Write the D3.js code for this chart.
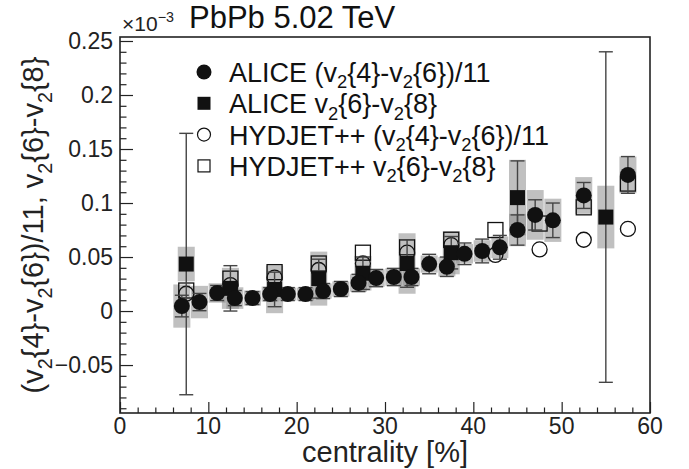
<!DOCTYPE html>
<html>
<head>
<meta charset="utf-8">
<script src="https://cdn.jsdelivr.net/npm/d3@7"></script>
<style>
  body { margin: 0; background: #fff; }
  svg { display: block; font-family: "Liberation Sans", Arial, sans-serif; }
</style>
</head>
<body>
<div id="chart"></div>
<script>
// ALICE (v2{4}-v2{6})/11
var aliceCentX = [7, 9, 11, 13, 15, 17, 19, 21, 23, 25, 27, 29, 31, 33, 35, 37, 39, 41, 43, 45, 47, 49, 52.5, 57.5];
var aliceCentY = [0.0046, 0.0083, 0.0167, 0.012, 0.012, 0.0157, 0.0157, 0.0157, 0.0185, 0.0204, 0.026, 0.0305, 0.0315, 0.0315,
  0.0435, 0.041, 0.053, 0.0556, 0.059, 0.075, 0.089, 0.084, 0.107, 0.126];
var aliceCentStat = [0.010, 0.008, 0.007, 0.007, 0.006, 0.006, 0.006, 0.006, 0.007, 0.007, 0.008, 0.008, 0.008, 0.008,
  0.009, 0.009, 0.010, 0.011, 0.011, 0.014, 0.014, 0.016, 0.012, 0.017];
var aliceCentSys = [0.020, 0.015, 0.009, 0.010, 0.007, 0.007, 0.006, 0.006, 0.007, 0.007, 0.008, 0.008, 0.008, 0.008,
  0.008, 0.009, 0.009, 0.010, 0.010, 0.015, 0.023, 0.020, 0.017, 0.017];

// ALICE v2{6}-v2{8}
var aliceSqX = [7.5, 12.5, 17.5, 22.5, 27.5, 32.5, 37.5, 45, 55];
var aliceSqY = [0.0435, 0.021, 0.02, 0.030, 0.035, 0.044, 0.054, 0.105, 0.087];
var aliceSqStat = [0.121, 0.021, 0.016, 0.018, 0.015, 0.022, 0.015, 0.034, 0.153];
var aliceSqSys = [0.016, 0.019, 0.022, 0.025, 0.016, 0.028, 0.020, 0.035, 0.029];

// HYDJET++
var hydX = [7.5, 12.5, 17.5, 22.5, 27.5, 32.5, 37.5, 42.5, 47.5, 52.5, 57.5];
var hydCentY = [0.016, 0.024, 0.031, 0.038, 0.044, 0.054, 0.061, 0.052, 0.057, 0.066, 0.076];
var hydSqY = [0.019, 0.030, 0.036, 0.044, 0.054, 0.059, 0.066, 0.075, 0.081, 0.096, 0.118];

var xTicks = [0, 10, 20, 30, 40, 50, 60];
var yTicks = [-0.05, 0, 0.05, 0.1, 0.15, 0.2, 0.25];

var W = 689, H = 469;
var frame = { left: 120, right: 650, top: 37, bottom: 413 };

var svg = d3.select("#chart").append("svg")
  .attr("width", W)
  .attr("height", H);

var x = d3.scaleLinear().domain([0, 60]).range([frame.left, frame.right]);
var y = d3.scaleLinear().domain([-0.0944, 0.2537]).range([frame.bottom, frame.top]);

// writes text with sub/superscripts, parts = [[str, "sub"|"sup"|null], ...]
function richText(sel, parts, size, subShift) {
  var back = 0;
  parts.forEach(function (p) {
    var t = sel.append("tspan").text(p[0]);
    var shift = 0;
    if (p[1] == "sub") shift = size * (subShift || 0.3);
    if (p[1] == "sup") shift = -size * 0.42;
    if (p[1]) t.attr("font-size", size * 0.68);
    if (shift - back != 0) t.attr("dy", shift - back);
    back = shift;
  });
}

// frame
svg.append("rect")
  .attr("x", frame.left).attr("y", frame.top)
  .attr("width", frame.right - frame.left).attr("height", frame.bottom - frame.top)
  .attr("fill", "none").attr("stroke", "#222").attr("stroke-width", 1.6);

// x axis ticks (inside)
var gx = svg.append("g").attr("transform", "translate(0," + frame.bottom + ")")
  .call(d3.axisTop(x).tickValues(d3.range(0, 61, 2)).tickSize(0).tickFormat(""));
gx.select(".domain").remove();
gx.selectAll(".tick text").remove();
gx.selectAll(".tick line")
  .attr("y2", function (d) { return d % 10 == 0 ? -11 : -5.5; })
  .attr("stroke", "#222").attr("stroke-width", 1.2);

svg.append("g").selectAll("text")
  .data(xTicks).enter().append("text")
  .attr("x", function (d) { return x(d); })
  .attr("y", frame.bottom + 21)
  .attr("text-anchor", "middle")
  .attr("font-size", 23)
  .attr("fill", "#222")
  .text(function (d) { return d; });

// y axis ticks (inside)
var gy = svg.append("g").attr("transform", "translate(" + frame.left + ",0)")
  .call(d3.axisRight(y).tickValues(d3.range(-0.09, 0.2501, 0.01)).tickSize(0).tickFormat(""));
gy.select(".domain").remove();
gy.selectAll(".tick text").remove();
gy.selectAll(".tick line")
  .attr("x2", function (d) { return Math.abs(Math.round(d * 100) % 5) == 0 ? 13 : 6.5; })
  .attr("stroke", "#222").attr("stroke-width", 1.2);

svg.append("g").selectAll("text")
  .data(yTicks).enter().append("text")
  .attr("x", frame.left - 7)
  .attr("y", function (d) { return y(d) + 8; })
  .attr("text-anchor", "end")
  .attr("font-size", 23)
  .attr("fill", "#222")
  .text(function (d) { return d < 0 ? "\u2212" + String(-d) : String(d); });

// axis titles
svg.append("text")
  .attr("x", (frame.left + frame.right) / 2)
  .attr("y", 462)
  .attr("text-anchor", "middle")
  .attr("font-size", 29)
  .attr("fill", "#222")
  .text("centrality [%]");

var yt = svg.append("text")
  .attr("transform", "translate(43," + ((frame.top + frame.bottom) / 2) + ") rotate(-90)")
  .attr("text-anchor", "middle")
  .attr("font-size", 29)
  .attr("fill", "#222");
richText(yt, [["(v", null], ["2", "sub"], ["{4}-v", null], ["2", "sub"], ["{6})/11, v", null], ["2", "sub"],
  ["{6}-v", null], ["2", "sub"], ["{8}", null]], 29);

// exponent and title
var ex = svg.append("text").attr("x", 122).attr("y", 31).attr("font-size", 21).attr("fill", "#222");
richText(ex, [["\u00d710", null], ["\u22123", "sup"]], 21);

svg.append("text")
  .attr("x", 189).attr("y", 28)
  .attr("font-size", 31)
  .attr("fill", "#111")
  .text("PbPb 5.02 TeV");

var boxW = 17;

// systematic boxes
var boxes = svg.append("g").attr("fill", "#8c8c8c").attr("fill-opacity", 0.55);
boxes.selectAll("rect.c").data(aliceCentX).enter().append("rect")
  .attr("x", function (d) { return x(d) - boxW / 2; })
  .attr("width", boxW)
  .attr("y", function (d, i) { return y(aliceCentY[i] + aliceCentSys[i]); })
  .attr("height", function (d, i) { return y(aliceCentY[i] - aliceCentSys[i]) - y(aliceCentY[i] + aliceCentSys[i]); });
boxes.selectAll("rect.s").data(aliceSqX).enter().append("rect")
  .attr("x", function (d) { return x(d) - boxW / 2; })
  .attr("width", boxW)
  .attr("y", function (d, i) { return y(aliceSqY[i] + aliceSqSys[i]); })
  .attr("height", function (d, i) { return y(aliceSqY[i] - aliceSqSys[i]) - y(aliceSqY[i] + aliceSqSys[i]); });

// HYDJET++ open markers
var hyd = svg.append("g").attr("fill", "none").attr("stroke", "#111").attr("stroke-width", 1.3);
hyd.selectAll("circle").data(hydX).enter().append("circle")
  .attr("cx", function (d) { return x(d); })
  .attr("cy", function (d, i) { return y(hydCentY[i]); })
  .attr("r", 7.5);
hyd.selectAll("rect").data(hydX).enter().append("rect")
  .attr("x", function (d) { return x(d) - 7.5; })
  .attr("y", function (d, i) { return y(hydSqY[i]) - 7.5; })
  .attr("width", 15).attr("height", 15);

// stat error bars
function errorBars(g, xs, ys, errs, cap) {
  g.selectAll("line.v").data(xs).enter().append("line")
    .attr("x1", function (d) { return x(d); })
    .attr("x2", function (d) { return x(d); })
    .attr("y1", function (d, i) { return y(ys[i] + errs[i]); })
    .attr("y2", function (d, i) { return y(ys[i] - errs[i]); });
  [1, -1].forEach(function (s) {
    g.selectAll("line.c" + s).data(xs).enter().append("line")
      .attr("x1", function (d) { return x(d) - cap; })
      .attr("x2", function (d) { return x(d) + cap; })
      .attr("y1", function (d, i) { return y(ys[i] + s * errs[i]); })
      .attr("y2", function (d, i) { return y(ys[i] + s * errs[i]); });
  });
}
var eb = svg.append("g").attr("stroke", "#444").attr("stroke-width", 1.4);
errorBars(eb, aliceCentX, aliceCentY, aliceCentStat, 7);
errorBars(eb, aliceSqX, aliceSqY, aliceSqStat, 7);

// ALICE filled markers
var fm = svg.append("g").attr("fill", "#111");
fm.selectAll("rect").data(aliceSqX).enter().append("rect")
  .attr("x", function (d) { return x(d) - 7.5; })
  .attr("y", function (d, i) { return y(aliceSqY[i]) - 7.5; })
  .attr("width", 15).attr("height", 15);
fm.selectAll("circle").data(aliceCentX).enter().append("circle")
  .attr("cx", function (d) { return x(d); })
  .attr("cy", function (d, i) { return y(aliceCentY[i]); })
  .attr("r", 8);

// legend
var legendRows = [
  { type: "fc", parts: [["ALICE (v", null], ["2", "sub"], ["{4}-v", null], ["2", "sub"], ["{6})/11", null]] },
  { type: "fs", parts: [["ALICE v", null], ["2", "sub"], ["{6}-v", null], ["2", "sub"], ["{8}", null]] },
  { type: "oc", parts: [["HYDJET++ (v", null], ["2", "sub"], ["{4}-v", null], ["2", "sub"], ["{6})/11", null]] },
  { type: "os", parts: [["HYDJET++ v", null], ["2", "sub"], ["{6}-v", null], ["2", "sub"], ["{8}", null]] }
];
var lg = svg.append("g");
legendRows.forEach(function (r, i) {
  var cy = 72 + i * 31.3;
  if (r.type == "fc") lg.append("circle").attr("cx", 204).attr("cy", cy).attr("r", 7.5).attr("fill", "#111");
  if (r.type == "fs") lg.append("rect").attr("x", 197.5).attr("y", cy - 6.5).attr("width", 13).attr("height", 13).attr("fill", "#111");
  if (r.type == "oc") lg.append("circle").attr("cx", 204).attr("cy", cy).attr("r", 6.5).attr("fill", "none").attr("stroke", "#111").attr("stroke-width", 1.2);
  if (r.type == "os") lg.append("rect").attr("x", 198).attr("y", cy - 6).attr("width", 12).attr("height", 12).attr("fill", "none").attr("stroke", "#111").attr("stroke-width", 1.2);
  var t = lg.append("text").attr("x", 229).attr("y", cy + 10).attr("font-size", 27).attr("fill", "#111");
  richText(t, r.parts, 27, 0.24);
});
</script>
</body>
</html>
